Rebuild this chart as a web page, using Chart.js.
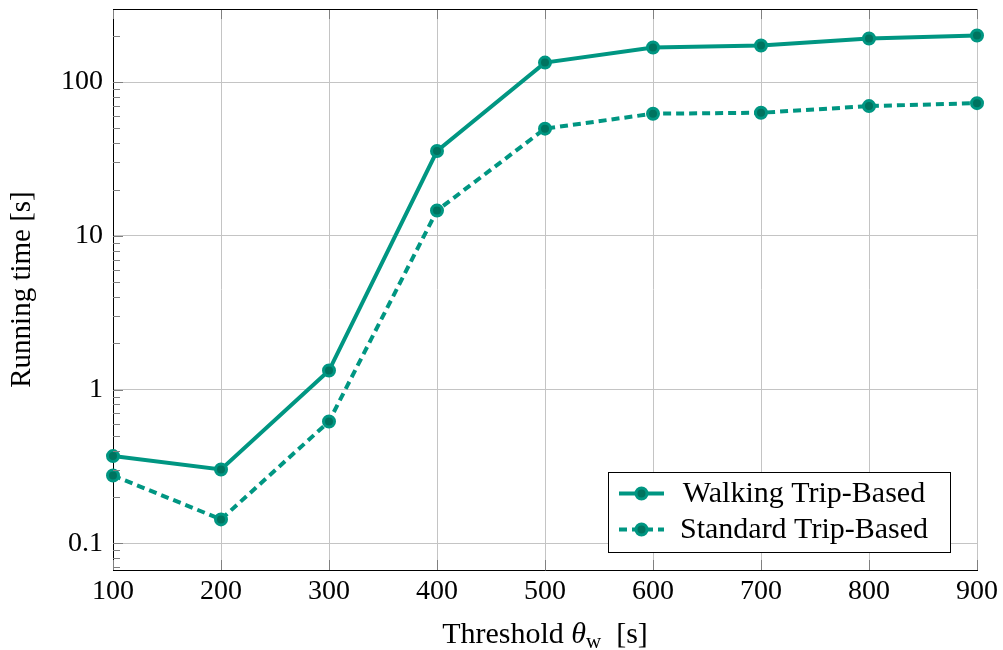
<!DOCTYPE html>
<html>
<head>
<meta charset="utf-8">
<title>Running time vs walking threshold</title>
<script src="https://cdn.jsdelivr.net/npm/chart.js@4.4.1/dist/chart.umd.min.js"></script>
<style>
  html, body { margin: 0; padding: 0; background: #fff; }
  #wrap { width: 1003px; height: 650px; }
</style>
</head>
<body>
<div id="wrap"><canvas id="chart" width="1003" height="650"></canvas></div>
<script>
// thresholds (x) and measured running times in seconds
const thresholds = [100, 200, 300, 400, 500, 600, 700, 800, 900];
const walkingTimes = [0.369, 0.302, 1.33, 35.6, 134, 168, 173, 192, 201];
const standardTimes = [0.276, 0.143, 0.62, 14.6, 49.8, 62.3, 63.2, 69.8, 73.0];
const yMajorTicks = [0.1, 1, 10, 100];

const TEAL = '#009682';
const TEAL_DARK = '#00735f';
const FONT = '"Liberation Serif", "Times New Roman", serif';
const FS = 28;

const Y_MIN = 0.067, Y_MAX = 299;

function isMajor(v) {
  const l = Math.log10(v);
  return Math.abs(l - Math.round(l)) < 1e-6;
}

// inner tick marks (pgfplots style), top frame line, x title, legend
const decorations = {
  id: 'decorations',
  afterDraw(chart) {
    const { ctx, chartArea: a, scales } = chart;
    const x = scales.x, y = scales.y;
    ctx.save();

    // tick marks pointing inwards
    ctx.strokeStyle = '#808080';
    ctx.lineWidth = 1;
    ctx.beginPath();
    y.ticks.forEach(t => {
      const py = Math.round(y.getPixelForValue(t.value)) + 0.5;
      const len = isMajor(t.value) ? 10 : 7;
      ctx.moveTo(a.left, py);
      ctx.lineTo(a.left + len, py);
    });
    x.ticks.forEach(t => {
      const px = Math.round(x.getPixelForValue(t.value)) + 0.5;
      ctx.moveTo(px, a.bottom);
      ctx.lineTo(px, a.bottom - 10);
      ctx.moveTo(px, a.top);
      ctx.lineTo(px, a.top + 10);
    });
    ctx.stroke();

    // top frame line
    ctx.strokeStyle = '#000';
    ctx.beginPath();
    ctx.moveTo(a.left, a.top + 0.5);
    ctx.lineTo(a.right, a.top + 0.5);
    ctx.stroke();

    // x axis title with subscript
    ctx.fillStyle = '#000';
    ctx.textBaseline = 'alphabetic';
    const parts = [
      { s: 'Threshold ', f: `30px ${FONT}`, dy: 0 },
      { s: 'θ', f: `italic 30px ${FONT}`, dy: 0 },
      { s: 'w', f: `21px ${FONT}`, dy: 5 },
      { s: '  [s]', f: `30px ${FONT}`, dy: 0 }
    ];
    let total = 0;
    parts.forEach(p => { ctx.font = p.f; p.w = ctx.measureText(p.s).width; total += p.w; });
    let cx = (a.left + a.right) / 2 - total / 2;
    const base = 643;
    parts.forEach(p => {
      ctx.font = p.f;
      ctx.textAlign = 'left';
      ctx.fillText(p.s, cx, base + p.dy);
      cx += p.w;
    });

    // legend box in the lower right corner
    const box = { l: 608.5, t: 472.5, r: 950.5, b: 552.5 };
    ctx.fillStyle = '#fff';
    ctx.fillRect(box.l, box.t, box.r - box.l, box.b - box.t);
    ctx.strokeStyle = '#000';
    ctx.lineWidth = 1;
    ctx.strokeRect(box.l, box.t, box.r - box.l, box.b - box.t);
    const rows = [493.5, 529.5];
    chart.data.datasets.forEach((ds, i) => {
      const ry = rows[i];
      ctx.strokeStyle = ds.borderColor;
      ctx.lineWidth = ds.borderWidth;
      ctx.setLineDash(ds.borderDash || []);
      ctx.beginPath();
      ctx.moveTo(619, ry);
      ctx.lineTo(664, ry);
      ctx.stroke();
      ctx.setLineDash([]);
      ctx.beginPath();
      ctx.arc(641.5, ry, ds.pointRadius, 0, Math.PI * 2);
      ctx.fillStyle = ds.pointBackgroundColor;
      ctx.fill();
      ctx.lineWidth = ds.pointBorderWidth;
      ctx.strokeStyle = ds.pointBorderColor;
      ctx.stroke();
      ctx.fillStyle = '#000';
      ctx.font = `30px ${FONT}`;
      ctx.textAlign = 'center';
      ctx.textBaseline = 'middle';
      ctx.fillText(ds.label, 804, ry + 1);
    });

    ctx.restore();
  }
};

function series(label, values, dash) {
  return {
    label: label,
    data: thresholds.map((t, i) => ({ x: t, y: values[i] })),
    borderColor: TEAL,
    borderWidth: 4,
    borderDash: dash,
    pointRadius: 5.5,
    pointBorderWidth: 3,
    pointBackgroundColor: TEAL_DARK,
    pointBorderColor: TEAL,
    tension: 0,
    clip: false
  };
}

new Chart(document.getElementById('chart'), {
  type: 'line',
  data: {
    datasets: [
      series('Walking Trip-Based', walkingTimes, []),
      series('Standard Trip-Based', standardTimes, [8, 5])
    ]
  },
  options: {
    responsive: false,
    animation: false,
    layout: { padding: { top: 9, right: 26, left: 0, bottom: 0 } },
    plugins: { legend: { display: false }, tooltip: { enabled: false } },
    scales: {
      x: {
        type: 'linear',
        min: 100,
        max: 900,
        afterFit(scale) {
          scale.height = 80;
          scale.paddingLeft = 0;
          scale.paddingRight = 0;
        },
        afterBuildTicks(scale) {
          scale.ticks = thresholds.map(v => ({ value: v }));
        },
        ticks: {
          autoSkip: false,
          padding: 5,
          color: '#000',
          font: { family: FONT, size: FS },
          maxRotation: 0
        },
        grid: { color: '#c4c4c4', drawTicks: false },
        border: { color: '#000', width: 1 }
      },
      y: {
        type: 'logarithmic',
        min: Y_MIN,
        max: Y_MAX,
        afterFit(scale) {
          scale.width = 113;
          scale.paddingTop = 0;
          scale.paddingBottom = 0;
        },
        afterBuildTicks(scale) {
          const t = [];
          for (let e = -2; e <= 2; e++) {
            for (let m = 1; m <= 9; m++) {
              const v = m * Math.pow(10, e);
              if (v >= Y_MIN && v <= Y_MAX) t.push({ value: v });
            }
          }
          scale.ticks = t;
        },
        ticks: {
          autoSkip: false,
          padding: 10,
          color: '#000',
          font: { family: FONT, size: FS },
          callback(v) {
            return yMajorTicks.includes(v) || isMajor(v) ? String(+v.toPrecision(3)) : '';
          }
        },
        grid: {
          drawTicks: false,
          color: c => (c.tick && isMajor(c.tick.value)) ? '#c4c4c4' : 'rgba(0,0,0,0)'
        },
        border: { color: '#000', width: 1 },
        title: {
          display: true,
          text: 'Running time [s]',
          color: '#000',
          font: { family: FONT, size: 29 },
          padding: { top: 5, bottom: 0 }
        }
      }
    }
  },
  plugins: [decorations]
});
</script>
</body>
</html>
